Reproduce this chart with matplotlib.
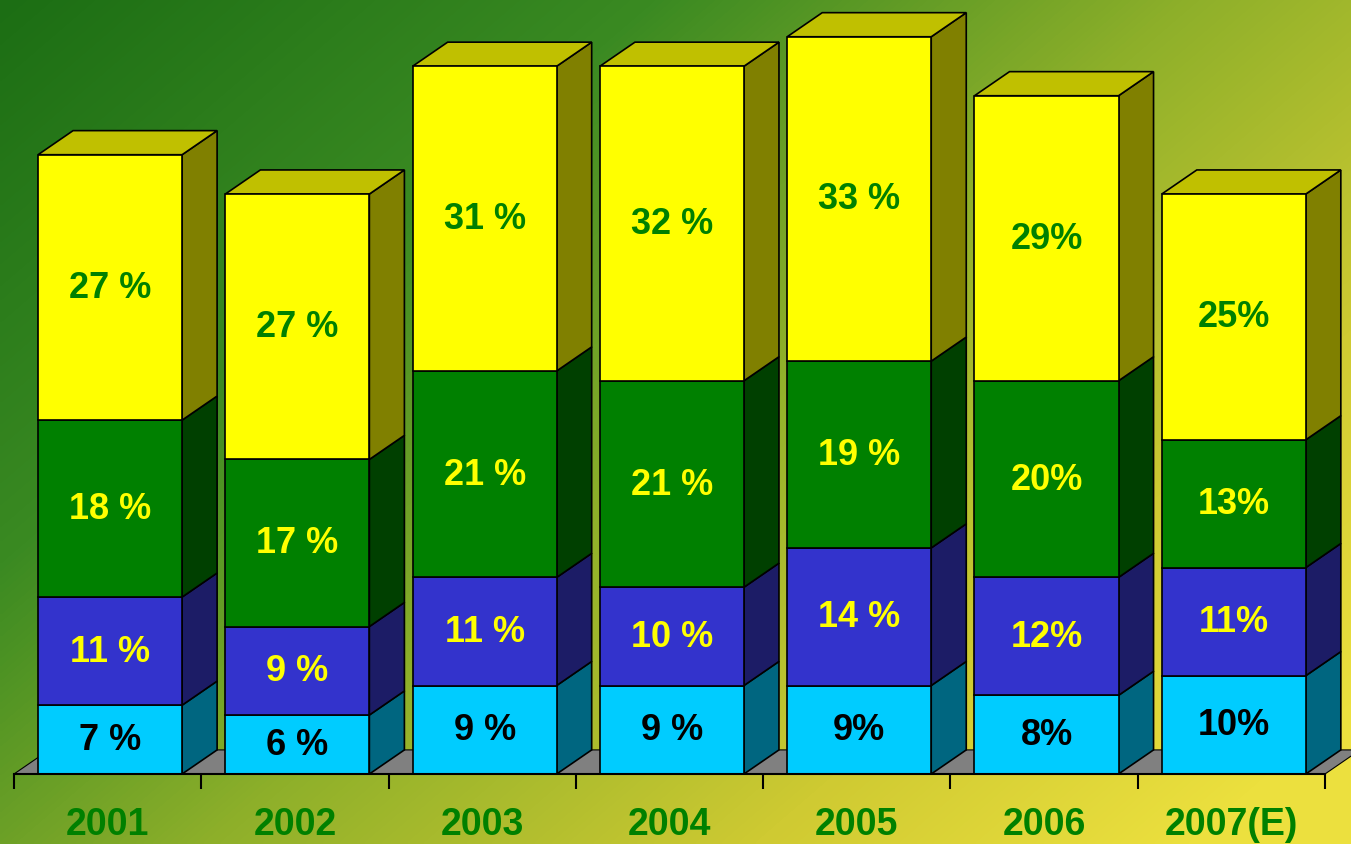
import numpy as np
import matplotlib.pyplot as plt
from matplotlib.patches import Polygon
from matplotlib.colors import LinearSegmentedColormap

# data (share of each segment, %)
years = ['2001', '2002', '2003', '2004', '2005', '2006', '2007(E)']
cyan_vals = [7, 6, 9, 9, 9, 8, 10]
blue_vals = [11, 9, 11, 10, 14, 12, 11]
green_vals = [18, 17, 21, 21, 19, 20, 13]
yellow_vals = [27, 27, 31, 32, 33, 29, 25]

cyan_labels = ['7 %', '6 %', '9 %', '9 %', '9%', '8%', '10%']
blue_labels = ['11 %', '9 %', '11 %', '10 %', '14 %', '12%', '11%']
green_labels = ['18 %', '17 %', '21 %', '21 %', '19 %', '20%', '13%']
yellow_labels = ['27 %', '27 %', '31 %', '32 %', '33 %', '29%', '25%']

FONT = 'Liberation Sans'

fig = plt.figure(figsize=(13.51, 8.45), dpi=100)

# background gradient (dark green top-left -> yellow bottom-right)
bg = fig.add_axes([0, 0, 1, 1])
gx, gy = np.meshgrid(np.linspace(0, 1, 400), np.linspace(0, 1, 250))
t = np.clip(0.62 * gx + 0.45 * gy, 0, 1)
bg_cmap = LinearSegmentedColormap.from_list(
    'bg', [(0, '#1c6e14'), (0.3, '#3a8a22'), (0.55, '#8fb02a'),
           (0.8, '#cfca32'), (1, '#ece03e')])
bg.imshow(t, cmap=bg_cmap, aspect='auto', interpolation='bilinear')
bg.axis('off')

# main axes, bottom spine = front edge of the floor
ax = fig.add_axes([14 / 1351, 70 / 845, (1325 - 14) / 1351, 775 / 845])
ax.patch.set_alpha(0)
ax.set_xlim(-0.5, 6.5)
ax.set_ylim(0, 775 / 9.83)

x = np.arange(len(years)) + 0.013
w = 0.769
dx, dy = 0.187, 2.45  # depth of the fake 3d

# floor
floor = Polygon([(-0.5, 0), (-0.5 + dx, dy), (6.5 + dx, dy), (6.5, 0)],
                closed=True, fc='#808080', ec='black', lw=0.8,
                zorder=1, clip_on=False)
ax.add_patch(floor)

layers = [
    (cyan_vals, cyan_labels, '#00ccff', '#006680', 'black'),
    (blue_vals, blue_labels, '#3333cc', '#1c1c66', '#ffff00'),
    (green_vals, green_labels, '#008000', '#004000', '#ffff00'),
    (yellow_vals, yellow_labels, '#ffff00', '#808000', '#008000'),
]

bottom = np.zeros(len(years))
for vals, labels, front, side, tcol in layers:
    vals = np.array(vals, dtype=float)
    ax.bar(x, vals, w, bottom=bottom, color=front, edgecolor='black',
           lw=1.2, zorder=3, clip_on=False)
    for xi, b, v, lab in zip(x, bottom, vals, labels):
        x1 = xi + w / 2
        ax.add_patch(Polygon([(x1, b), (x1 + dx, b + dy), (x1 + dx, b + v + dy), (x1, b + v)],
                             closed=True, fc=side, ec='black', lw=1.2,
                             zorder=2.5, clip_on=False))
        ax.text(xi, b + v / 2, lab, ha='center', va='center', fontsize=26,
                fontweight='bold', color=tcol, family=FONT, zorder=5)
    bottom = bottom + vals

# top faces
for xi, top in zip(x, bottom):
    x0, x1 = xi - w / 2, xi + w / 2
    ax.add_patch(Polygon([(x0, top), (x0 + dx, top + dy), (x1 + dx, top + dy), (x1, top)],
                         closed=True, fc='#c0c000', ec='black', lw=1.2,
                         zorder=2.5, clip_on=False))

for s in ['top', 'right', 'left']:
    ax.spines[s].set_visible(False)
ax.spines['bottom'].set_linewidth(1.5)
ax.spines['bottom'].set_zorder(4)
ax.set_yticks([])
ax.set_xticks(np.arange(len(years)))
ax.set_xticklabels(years)
ax.set_xticks(np.arange(-0.5, len(years)), minor=True)
ax.tick_params(axis='x', which='major', length=0, pad=23, labelsize=27,
               labelcolor='#008000')
ax.tick_params(axis='x', which='minor', length=11, width=1.5, direction='out')
for lbl in ax.get_xticklabels():
    lbl.set_fontweight('bold')
    lbl.set_family(FONT)

fig.savefig('out.png', dpi=100)
